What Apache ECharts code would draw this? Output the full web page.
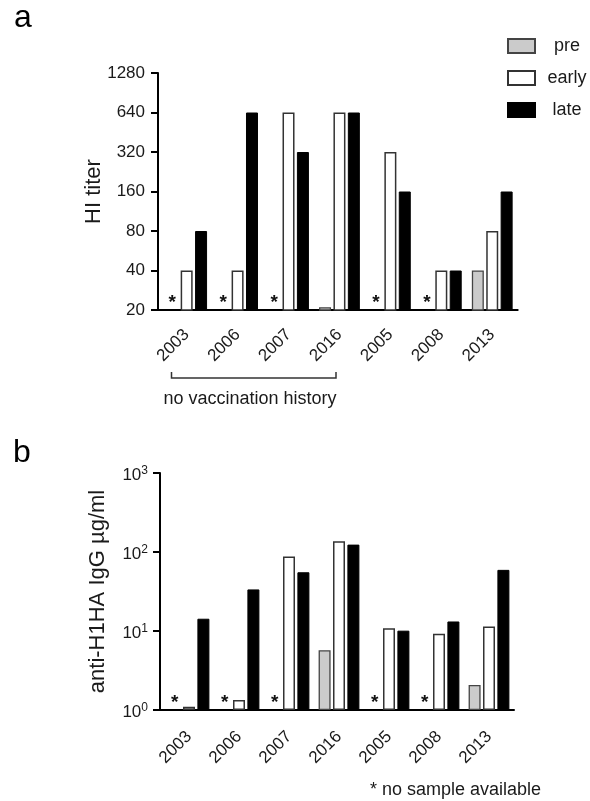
<!DOCTYPE html>
<html><head><meta charset="utf-8">
<script src="https://cdn.jsdelivr.net/npm/echarts@6/dist/echarts.min.js"></script>
<style>html,body{margin:0;padding:0;background:#fff}#c{width:590px;height:801px}</style>
</head><body><div id="c"></div>
<script>
const categories = ['2003','2006','2007','2016','2005','2008','2013'];
const seriesNames = ['pre','early','late'];
// Panel a: HI titer (null = no sample available)
const hiPre   = [null, null, null, 21, null, null, 40];
const hiEarly = [40, 40, 640, 640, 320, 40, 80];
const hiLate  = [80, 640, 320, 640, 160, 40, 160];
const hiMin = 20, hiMax = 1280;
// Panel b: anti-H1HA IgG µg/ml (null = no sample available)
const igPre   = [null, null, null, 5.7, null, null, 2.07];
const igEarly = [1.1, 1.34, 88, 137, 10.8, 9.25, 11.4];
const igLate  = [14.3, 33.6, 55.4, 124, 10.1, 13.2, 59.4];
const igMin = 1, igMax = 1000;

const FONT = 'Liberation Sans, Arial, Helvetica, sans-serif';
const TXT = '#1a1a1a';
const styles = {
  pre:   {color:'#cbcbcb', borderColor:'#444', borderWidth:1.3},
  early: {color:'#ffffff', borderColor:'#333', borderWidth:1.5},
  late:  {color:'#000000', borderColor:'#000', borderWidth:1}
};

function starData(arr, base){
  return arr.map(v => v == null ? {
    value: base,
    itemStyle:{color:'transparent', borderWidth:0},
    label:{show:true, formatter:'*', position:'top', distance:-2, fontSize:19, fontWeight:'bold', color:'#111', fontFamily:FONT}
  } : v);
}

function barSeries(name, data, idx){
  return {
    name, type:'bar', xAxisIndex:idx, yAxisIndex:idx, data,
    barWidth:12, barGap:'20%', clip:true,
    itemStyle: styles[name], emphasis:{disabled:true}
  };
}

const axisLineStyle = {color:'#000', width:2};
function xAx(gi, margin){
  return {type:'category', gridIndex:gi, data:categories,
    axisLine:{lineStyle:axisLineStyle},
    axisTick:{alignWithLabel:true, length:7, lineStyle:{width:2, color:'#000'}},
    axisLabel:{rotate:45, fontSize:17, color:TXT, margin, fontFamily:FONT}};
}

const option = {
  animation:false,
  textStyle:{fontFamily:FONT},
  legend:{
    data: seriesNames, orient:'vertical', left:502, top:32, icon:'rect',
    itemWidth:27, itemHeight:14, itemGap:14,
    formatter: n => '{c|' + n + '}',
    textStyle:{fontSize:18, color:TXT, fontFamily:FONT,
      rich:{c:{width:54, align:'center', fontSize:18, color:TXT, fontFamily:FONT}}}
  },
  grid:[
    {left:161.2, top:73, width:356.5, height:237},
    {left:164, top:473, width:350, height:237}
  ],
  xAxis:[ xAx(0, 22), xAx(1, 24) ],
  yAxis:[
    {type:'log', gridIndex:0, logBase:2, min:hiMin, max:hiMax, interval:1, offset:3.2,
     name:'HI titer', nameLocation:'middle', nameGap:53, nameMoveOverlap:false,
     nameTextStyle:{fontSize:22, color:TXT, fontFamily:FONT},
     axisLine:{show:true, lineStyle:axisLineStyle},
     axisTick:{show:true, length:7, lineStyle:{width:2, color:'#000'}},
     splitLine:{show:false},
     axisLabel:{fontSize:17, color:TXT, margin:13, fontFamily:FONT,
       formatter:v=>String(hiMin*Math.pow(2, Math.round(Math.log2(v/hiMin))))}},
    {type:'log', gridIndex:1, logBase:10, min:igMin, max:igMax, interval:1, offset:4,
     name:'anti-H1HA IgG µg/ml', nameLocation:'middle', nameGap:51, nameMoveOverlap:false,
     nameTextStyle:{fontSize:22, color:TXT, fontFamily:FONT},
     axisLine:{show:true, lineStyle:axisLineStyle},
     axisTick:{show:true, length:7, lineStyle:{width:2, color:'#000'}},
     splitLine:{show:false},
     axisLabel:{margin:12, color:TXT, fontFamily:FONT, padding:[4,0,0,0],
       formatter:v=>'{b|10}{s|'+Math.round(Math.log10(v))+'}',
       rich:{b:{fontSize:17, color:TXT, fontFamily:FONT}, s:{fontSize:12, color:TXT, fontFamily:FONT, padding:[0,0,9,0]}}}}
  ],
  series:[
    barSeries('pre', starData(hiPre, hiMin), 0),
    barSeries('early', hiEarly, 0),
    barSeries('late', hiLate, 0),
    barSeries('pre', starData(igPre, igMin), 1),
    barSeries('early', igEarly, 1),
    barSeries('late', igLate, 1)
  ],
  graphic:[
    {type:'text', left:14, top:2, style:{text:'a', fontSize:32, fill:'#000', fontFamily:FONT}},
    {type:'text', left:13, top:437, style:{text:'b', fontSize:32, fill:'#000', fontFamily:FONT}},
    {type:'line', shape:{x1:157, y1:310, x2:163, y2:310}, style:{stroke:'#000', lineWidth:2}},
    {type:'line', shape:{x1:159, y1:710, x2:165, y2:710}, style:{stroke:'#000', lineWidth:2}},
    {type:'polyline', shape:{points:[[171.5,372],[171.5,378],[336,378],[336,372]]}, style:{stroke:'#333', lineWidth:1.5, fill:null}},
    {type:'text', x:250, y:399, style:{text:'no vaccination history', fontSize:18, fill:TXT, fontFamily:FONT, align:'center', verticalAlign:'middle'}},
    {type:'text', x:541, y:790, style:{text:'* no sample available', fontSize:18, fill:TXT, fontFamily:FONT, align:'right', verticalAlign:'middle'}}
  ]
};
const chart = echarts.init(document.getElementById('c'), null, {renderer:'canvas'});
chart.setOption(option);
</script></body></html>
